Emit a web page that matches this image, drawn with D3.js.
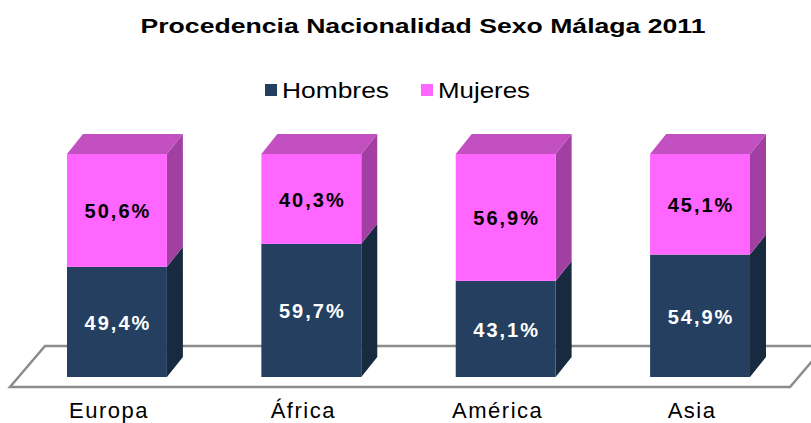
<!DOCTYPE html>
<html>
<head>
<meta charset="utf-8">
<script src="https://cdn.jsdelivr.net/npm/d3@7"></script>
<style>
  body { margin: 0; background: #fff; }
  text { font-family: "Liberation Sans", Arial, sans-serif; }
</style>
</head>
<body>
<svg id="chart" width="811" height="423"></svg>
<script>
var categories = ["Europa", "África", "América", "Asia"];
var seriesNames = ["Hombres", "Mujeres"];
var hombres = [49.4, 59.7, 43.1, 54.9];
var mujeres = [50.6, 40.3, 56.9, 45.1];

var svg = d3.select("#chart");

var frontCol = { Hombres: "#243f60", Mujeres: "#ff66ff" },
    sideCol  = { Hombres: "#172a40", Mujeres: "#a23fa2" },
    topCol   = { Hombres: "#1c3350", Mujeres: "#c250c0" },
    labelCol = { Hombres: "#fff", Mujeres: "#000" };

var x = d3.scaleBand().domain(categories).range([67, 750]).paddingInner(0.486).paddingOuter(0);
var y = d3.scaleLinear().domain([0, 100]).range([377, 154]);
var dx = 16, dy = -20; // bar depth

var data = categories.map(function(c, i) {
  return { cat: c, Hombres: hombres[i], Mujeres: mujeres[i] };
});
var stack = d3.stack().keys(seriesNames)(data);

// floor
var y0 = y(0);
var floor = [[x.range()[0] - 57, y0 + 10], [x.range()[1] + 40, y0 + 10],
             [x.range()[1] + 75, y0 - 31], [x.range()[0] - 22, y0 - 31]];
svg.append("path")
    .attr("d", d3.line()(floor) + "Z")
    .attr("fill", "#fff")
    .attr("stroke", "#8c8c8c")
    .attr("stroke-width", 2.5);

// title
svg.append("text")
    .attr("x", 423).attr("y", 33)
    .attr("text-anchor", "middle")
    .attr("font-size", 20).attr("font-weight", "bold")
    .attr("textLength", 565).attr("lengthAdjust", "spacingAndGlyphs")
    .text("Procedencia Nacionalidad Sexo Málaga 2011");

// legend
var legend = svg.append("g").selectAll("g")
    .data(seriesNames).enter().append("g")
    .attr("transform", function(d, i) { return "translate(" + [265, 421][i] + ",84)"; });
legend.append("rect").attr("width", 12).attr("height", 12)
    .attr("fill", function(d) { return frontCol[d]; });
legend.append("text")
    .attr("x", 17).attr("y", 14)
    .attr("font-size", 22)
    .attr("textLength", function(d, i) { return [107, 92][i]; })
    .attr("lengthAdjust", "spacingAndGlyphs")
    .text(function(d) { return d; });

// bars
var bw = x.bandwidth();
var layer = svg.append("g").selectAll("g")
    .data(stack).enter().append("g");

layer.each(function(s) {
  var g = d3.select(this), key = s.key;
  s.forEach(function(d) {
    var x0 = x(d.data.cat), yb = y(d[0]), yt = y(d[1]);
    g.append("path")
        .attr("d", d3.line()([[x0 + bw, yb], [x0 + bw + dx, yb + dy], [x0 + bw + dx, yt + dy], [x0 + bw, yt]]) + "Z")
        .attr("fill", sideCol[key]);
    if (key === seriesNames[seriesNames.length - 1]) {
      g.append("path")
          .attr("d", d3.line()([[x0, yt], [x0 + dx, yt + dy], [x0 + bw + dx, yt + dy], [x0 + bw, yt]]) + "Z")
          .attr("fill", topCol[key]);
    }
    g.append("rect")
        .attr("x", x0).attr("y", yt)
        .attr("width", bw).attr("height", yb - yt)
        .attr("fill", frontCol[key]);
    g.append("text")
        .attr("x", x0 + bw / 2 + 1).attr("y", (yb + yt) / 2 + 8)
        .attr("text-anchor", "middle")
        .attr("font-size", 20).attr("font-weight", "bold")
        .attr("letter-spacing", 2)
        .attr("fill", labelCol[key])
        .text(d3.format(".1f")(d.data[key]).replace(".", ",") + "%");
  });
});

// category labels
svg.append("g").selectAll("text")
    .data(categories).enter().append("text")
    .attr("x", function(d) { return x(d) + bw / 2 - 8; })
    .attr("y", 418)
    .attr("text-anchor", "middle")
    .attr("font-size", 22)
    .attr("letter-spacing", 1.5)
    .text(function(d) { return d; });
</script>
</body>
</html>
